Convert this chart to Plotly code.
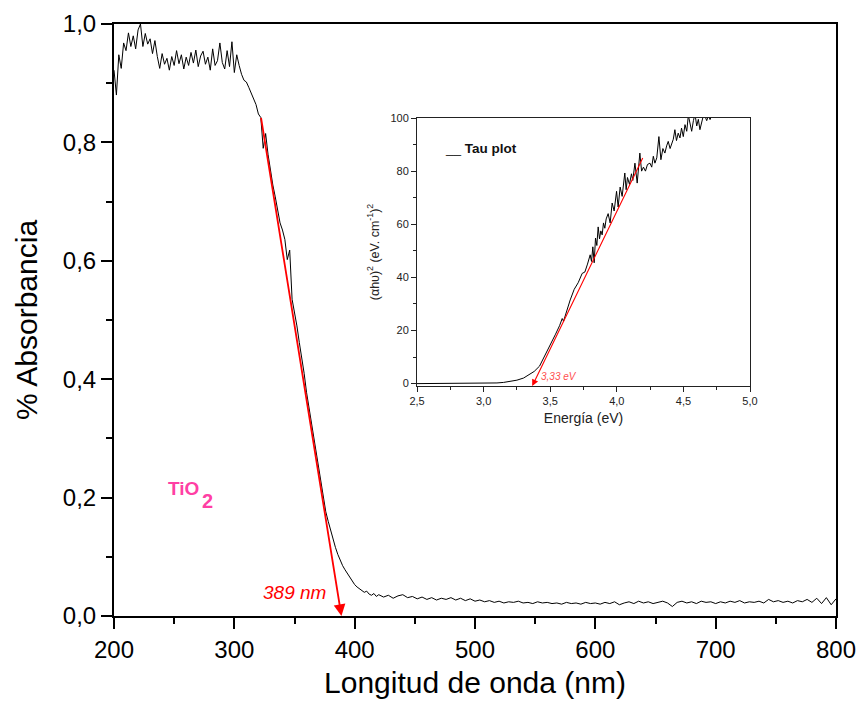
import plotly.graph_objects as go

# ---------------- main spectrum ----------------
wl_start_a, wl_step_a = 200, 2
absorb_a = [
    0.922, 0.880, 0.948, 0.925, 0.968, 0.955, 0.985, 0.962, 0.980, 0.958,
    0.990, 1.000, 0.962, 0.984, 0.966, 0.975, 0.950, 0.972, 0.945, 0.925,
    0.950, 0.932, 0.942, 0.922, 0.945, 0.930, 0.955, 0.933, 0.948, 0.924,
    0.944, 0.930, 0.952, 0.934, 0.956, 0.928, 0.946, 0.954, 0.932, 0.944,
    0.922, 0.958, 0.930, 0.938, 0.968, 0.935, 0.924, 0.955, 0.928, 0.970,
    0.918, 0.948, 0.930, 0.915, 0.905, 0.902, 0.893, 0.884, 0.876, 0.864,
    0.848, 0.842, 0.790, 0.815, 0.780, 0.752, 0.728, 0.708, 0.688, 0.664,
    0.652, 0.636, 0.602, 0.618, 0.535, 0.515, 0.490, 0.462, 0.438, 0.410,
    0.378, 0.352, 0.325, 0.298, 0.272, 0.246, 0.222, 0.198, 0.176, 0.160,
    0.145, 0.128, 0.116, 0.104, 0.094, 0.085, 0.078, 0.072, 0.066, 0.058,
    0.053, 0.049, 0.046, 0.044, 0.040, 0.042, 0.037, 0.035, 0.038, 0.033,
    0.036,
]
wl_start_b, wl_step_b = 424, 4
absorb_b = [
    0.032, 0.035, 0.030, 0.034, 0.036, 0.031, 0.033, 0.029, 0.032, 0.028,
    0.031, 0.027, 0.030, 0.028, 0.031, 0.027, 0.030, 0.026, 0.029, 0.025,
    0.027, 0.024, 0.026, 0.023, 0.025, 0.022, 0.024, 0.023, 0.025, 0.022,
    0.023, 0.021, 0.024, 0.022, 0.023, 0.021, 0.022, 0.020, 0.023, 0.021,
    0.022, 0.020, 0.023, 0.021, 0.022, 0.020, 0.023, 0.021, 0.024, 0.019,
    0.022, 0.024, 0.021, 0.025, 0.022, 0.024, 0.021, 0.023, 0.025, 0.022,
    0.016, 0.023, 0.025, 0.022, 0.024, 0.021, 0.025, 0.023, 0.024, 0.021,
    0.024, 0.022, 0.025, 0.023, 0.026, 0.022, 0.024, 0.023, 0.025, 0.022,
    0.028, 0.024, 0.026, 0.023, 0.025, 0.022, 0.026, 0.024, 0.028, 0.023,
    0.030, 0.021, 0.031, 0.019, 0.029,
]
wavelength = ([wl_start_a + wl_step_a * i for i in range(len(absorb_a))]
              + [wl_start_b + wl_step_b * i for i in range(len(absorb_b))])
absorbance = absorb_a + absorb_b

# linear extrapolation (tail -> head), main plot
fit_main_wl = [322, 389]
fit_main_abs = [0.844, 0.0]

# ---------------- Tau plot (inset) ----------------
energy = [
    2.50, 2.70, 2.90, 3.00, 3.10, 3.15, 3.20, 3.25, 3.30, 3.34,
    3.38, 3.42, 3.45, 3.48, 3.51, 3.54, 3.57, 3.59, 3.60, 3.62,
    3.65, 3.68, 3.71, 3.74, 3.76, 3.78, 3.80, 3.81, 3.82, 3.83,
    3.84, 3.85, 3.86, 3.87, 3.88, 3.89, 3.90, 3.91, 3.92, 3.935,
    3.95, 3.965, 3.98, 3.998, 4.01, 4.025, 4.04, 4.06, 4.07, 4.08,
    4.095, 4.11, 4.12, 4.136, 4.153, 4.173, 4.186, 4.20, 4.215, 4.23,
    4.249, 4.262, 4.274, 4.286, 4.30, 4.316, 4.331, 4.346, 4.361, 4.374,
    4.386, 4.40, 4.411, 4.424, 4.436, 4.448, 4.461, 4.474, 4.486, 4.499,
    4.512, 4.525, 4.537, 4.55, 4.562, 4.575, 4.587, 4.60, 4.612, 4.624,
    4.637, 4.65, 4.663, 4.675, 4.688, 4.70, 4.72, 4.75,
]
tau = [
    0.0, 0.0, 0.05, 0.1, 0.25, 0.45, 0.8, 1.3, 2.1, 3.2,
    4.6, 6.6, 9.5, 12.6, 15.6, 18.6, 21.8, 24.5, 23.5, 27.0,
    31.5, 35.5, 38.0, 41.5, 42.0, 45.0, 48.5, 46.0, 51.5, 45.5,
    54.8, 52.0, 59.0, 54.5, 57.5, 56.0, 60.5, 58.5, 62.0, 64.0,
    60.5, 68.0, 65.0, 72.4, 66.5, 74.0, 70.5, 79.3, 73.0, 77.6,
    75.0, 79.0, 76.5, 83.0, 75.5, 86.8, 80.0, 81.5, 80.0, 82.5,
    83.0, 81.5, 85.6, 83.0, 85.0, 93.0, 84.3, 88.5, 86.8, 89.5,
    91.2, 88.5, 90.0, 92.0, 95.6, 91.5, 94.3, 92.5, 96.2, 93.0,
    97.5, 95.0, 101.0, 98.0, 95.0, 99.0, 101.5, 97.0, 99.5, 95.6,
    99.0, 101.0, 100.5, 99.0, 101.0, 99.4, 102.0, 104.0,
]
fit_inset_e = [4.20, 3.365]
fit_inset_tau = [85.5, -0.9]

main_xticks = [200, 300, 400, 500, 600, 700, 800]
main_yticks = [0.0, 0.2, 0.4, 0.6, 0.8, 1.0]
inset_xticks = [2.5, 3.0, 3.5, 4.0, 4.5, 5.0]
inset_yticks = [0, 20, 40, 60, 80, 100]

FONT = "Arial, Liberation Sans, sans-serif"
RED = "#ff0000"
PINK = "#ff3fa4"

fig = go.Figure()
fig.add_trace(go.Scatter(x=wavelength, y=absorbance, mode="lines",
                         line=dict(color="black", width=1),
                         xaxis="x", yaxis="y", showlegend=False))
fig.add_trace(go.Scatter(x=energy, y=tau, mode="lines",
                         line=dict(color="black", width=1),
                         xaxis="x2", yaxis="y2", showlegend=False))

annotations = [
    # main fit arrow
    dict(x=fit_main_wl[1], y=fit_main_abs[1], ax=fit_main_wl[0], ay=fit_main_abs[0],
         xref="x", yref="y", axref="x", ayref="y", text="", showarrow=True,
         arrowhead=2, arrowsize=1.3, arrowwidth=1.8, arrowcolor=RED),
    dict(x=350, y=0.04, xref="x", yref="y", text="<i>389 nm</i>", showarrow=False,
         font=dict(family=FONT, size=19, color=RED)),
    dict(x=257.8, y=0.215, xref="x", yref="y", text="<b>TiO</b>", showarrow=False,
         font=dict(family=FONT, size=19, color=PINK)),
    dict(x=277.5, y=0.194, xref="x", yref="y", text="<b>2</b>", showarrow=False,
         xanchor="center", font=dict(family=FONT, size=20, color=PINK)),
    # inset fit arrow
    dict(x=fit_inset_e[1], y=fit_inset_tau[1], ax=fit_inset_e[0], ay=fit_inset_tau[0],
         xref="x2", yref="y2", axref="x2", ayref="y2", text="", showarrow=True,
         arrowhead=2, arrowsize=1.2, arrowwidth=1.1, arrowcolor=RED),
    dict(x=3.565, y=2.6, xref="x2", yref="y2", text="<i>3,33 eV</i>", showarrow=False,
         font=dict(family=FONT, size=10, color="#ff5050")),
    dict(x=0.077, y=0.888, xref="x2 domain", yref="y2 domain", xanchor="left",
         yanchor="middle", text="__ <b>Tau plot</b>", showarrow=False,
         font=dict(family=FONT, size=13.5, color="#111")),
]

fig.update_layout(
    width=857, height=711,
    margin=dict(l=114, r=21, t=24, b=95),
    paper_bgcolor="white", plot_bgcolor="white",
    separators=",.",
    font=dict(family=FONT, color="black"),
    annotations=annotations,
    xaxis=dict(
        domain=[0, 1], range=[200, 800], tickvals=main_xticks, automargin=False,
        showline=True, linewidth=2, linecolor="black", mirror=True,
        ticks="outside", ticklen=11, tickwidth=2, tickcolor="black",
        minor=dict(dtick=50, ticks="outside", ticklen=6, tickwidth=2, tickcolor="black"),
        showgrid=False, zeroline=False,
        tickfont=dict(family=FONT, size=24, color="black"),
        title=dict(text="Longitud de onda (nm)", standoff=10,
                   font=dict(family=FONT, size=30, color="black")),
    ),
    yaxis=dict(
        domain=[0, 1], range=[0, 1.0], tickvals=main_yticks, tickformat=".1f",
        automargin=False,
        showline=True, linewidth=2, linecolor="black", mirror=True,
        ticks="outside", ticklen=11, tickwidth=2, tickcolor="black",
        minor=dict(dtick=0.1, ticks="outside", ticklen=6, tickwidth=2, tickcolor="black"),
        showgrid=False, zeroline=False,
        tickfont=dict(family=FONT, size=24, color="black"),
        title=dict(text="% Absorbancia", standoff=16,
                   font=dict(family=FONT, size=30, color="black")),
    ),
    xaxis2=dict(
        domain=[0.4197, 0.8809], anchor="y2", range=[2.5, 5.0], automargin=False,
        tickvals=inset_xticks, tickformat=".1f",
        showline=True, linewidth=1, linecolor="#222", mirror=True,
        ticks="outside", ticklen=5, tickwidth=1, tickcolor="#222",
        minor=dict(dtick=0.25, ticks="outside", ticklen=3, tickwidth=1, tickcolor="#222"),
        showgrid=False, zeroline=False,
        tickfont=dict(family=FONT, size=11, color="#222"),
        title=dict(text="Energía (eV)", standoff=6,
                   font=dict(family=FONT, size=14, color="#222")),
    ),
    yaxis2=dict(
        domain=[0.3885, 0.8412], anchor="x2", range=[-0.9, 100], automargin=False,
        tickvals=inset_yticks,
        showline=True, linewidth=1, linecolor="#222", mirror=True,
        ticks="outside", ticklen=5, tickwidth=1, tickcolor="#222",
        minor=dict(dtick=10, ticks="outside", ticklen=3, tickwidth=1, tickcolor="#222"),
        showgrid=False, zeroline=False,
        tickfont=dict(family=FONT, size=11, color="#222"),
        title=dict(text="(αhυ)<sup>2</sup> (eV. cm<sup>-1</sup>)<sup>2</sup>", standoff=8,
                   font=dict(family=FONT, size=12.5, color="#222")),
    ),
)

fig.write_html("out.html")
